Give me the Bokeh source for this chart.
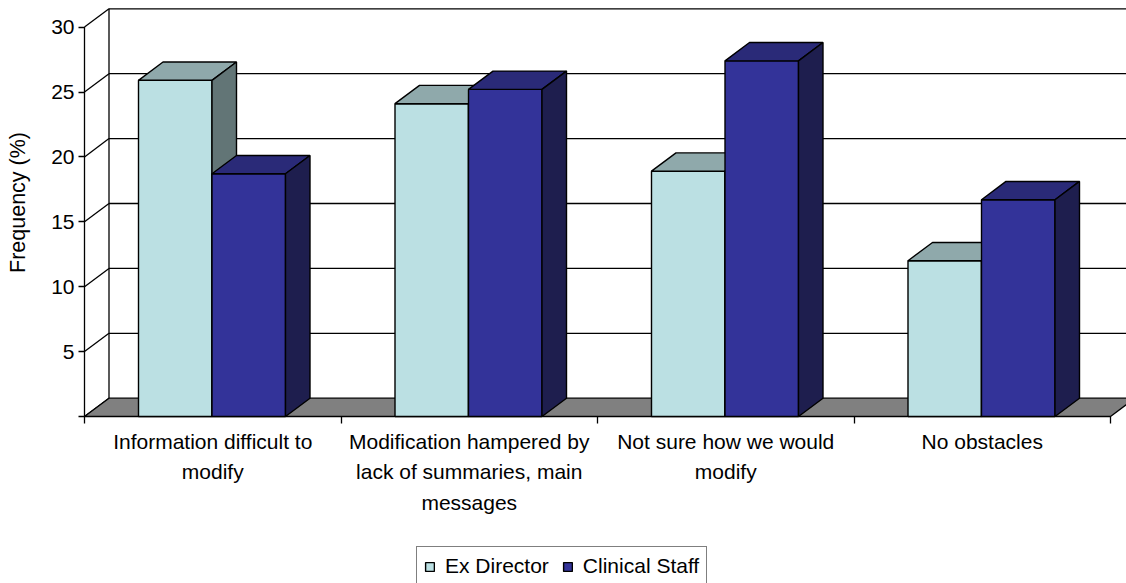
import math
from bokeh.plotting import figure
from bokeh.models import Range1d, LinearAxis, FixedTicker, Legend, LegendItem
from bokeh.core.properties import value
from bokeh.embed import file_html
from bokeh.resources import INLINE

# ---------------- data ----------------
categories = [
    "Information difficult to\nmodify",
    "Modification hampered by\nlack of summaries, main\nmessages",
    "Not sure how we would\nmodify",
    "No obstacles",
]
series_names = ["Ex Director", "Clinical Staff"]
ex_director = [25.9, 24.1, 18.9, 12.0]
clinical_staff = [18.7, 25.2, 27.4, 16.7]
y_tick_values = [0, 5, 10, 15, 20, 25, 30]
y_axis_title = "Frequency (%)"
y_max = 30

# ---------------- geometry / style ----------------
W, H = 1126, 583
ORIGIN_X, ORIGIN_Y = 84.0, 416.0     # pixel position of (0, 0)
PX_PER_CAT = 256.5
PX_PER_UNIT = 12.98
DX = 24.5 / PX_PER_CAT          # depth offset (x)
DY = 18.3 / PX_PER_UNIT         # depth offset (y)
BAR_W = 73.5 / PX_PER_CAT
BAR_START = 54.0 / PX_PER_CAT
LW_GRID = 1.3
LW_BAR = 1.4

FONT = "Liberation Sans"
FS = "21px"

x0 = -ORIGIN_X / PX_PER_CAT
x1 = (W - ORIGIN_X) / PX_PER_CAT
y0 = -(H - ORIGIN_Y) / PX_PER_UNIT
y1 = ORIGIN_Y / PX_PER_UNIT

p = figure(
    frame_width=W, frame_height=H,
    x_range=Range1d(x0, x1), y_range=Range1d(y0, y1),
    x_axis_type=None, y_axis_type=None,
    output_backend="svg", toolbar_location=None,
    min_border=0,
    background_fill_color="white", border_fill_color="white",
)
p.outline_line_color = None

# ---------------- walls ----------------
grid_vals = [v for v in y_tick_values if v > 0]
p.segment(x0=[DX] * len(grid_vals), y0=[v + DY for v in grid_vals],
          x1=[x1 + 1] * len(grid_vals), y1=[v + DY for v in grid_vals],
          line_color="black", line_width=LW_GRID)
p.segment(x0=[0] * len(y_tick_values), y0=y_tick_values,
          x1=[DX] * len(y_tick_values), y1=[v + DY for v in y_tick_values],
          line_color="black", line_width=LW_GRID)
p.segment(x0=[DX, 0], y0=[DY, 0], x1=[DX, 0], y1=[y_max + DY, y_max],
          line_color="black", line_width=LW_GRID)

n = len(categories)
p.patch(x=[0, n, n + DX, DX], y=[0, 0, DY, DY],
        fill_color="#808080", line_color="black", line_width=LW_GRID)

# ---------------- bars ----------------
def faces(vals, k):
    fx, fy, tx, ty, sx, sy = [], [], [], [], [], []
    for i, v in enumerate(vals):
        l = i + BAR_START + k * BAR_W
        r = l + BAR_W
        fx.append([l, r, r, l]); fy.append([0, 0, v, v])
        tx.append([l, r, r + DX, l + DX]); ty.append([v, v, v + DY, v + DY])
        sx.append([r, r + DX, r + DX, r]); sy.append([0, DY, v + DY, v])
    return fx, fy, tx, ty, sx, sy

colors = [
    ("#BBE0E3", "#8FA9AB", "#627576"),
    ("#333399", "#2A2A78", "#1E1E4E"),
]
front_renderers = []
for k, vals in enumerate([ex_director, clinical_staff]):
    fx, fy, tx, ty, sx, sy = faces(vals, k)
    cf, ct, cs = colors[k]
    rf = p.patches(xs=fx, ys=fy, fill_color=cf, line_color="black", line_width=LW_BAR)
    p.patches(xs=tx, ys=ty, fill_color=ct, line_color="black", line_width=LW_BAR)
    p.patches(xs=sx, ys=sy, fill_color=cs, line_color="black", line_width=LW_BAR)
    front_renderers.append(rf)

# ---------------- axes ----------------
yaxis = LinearAxis(
    fixed_location=0,
    ticker=FixedTicker(ticks=y_tick_values),
    major_label_overrides={0: ""},
    axis_line_color=None,
    major_tick_out=6, major_tick_in=0, major_tick_line_color="black", major_tick_line_width=LW_GRID,
    major_label_standoff=4,
    major_label_text_font=FONT, major_label_text_font_size=FS, major_label_text_color="black",
)
p.add_layout(yaxis, "left")

xaxis = LinearAxis(
    fixed_location=0,
    ticker=FixedTicker(ticks=[i + 0.5 for i in range(n)], minor_ticks=list(range(n + 1))),
    major_label_overrides={i + 0.5: c for i, c in enumerate(categories)},
    axis_line_color=None,
    major_tick_line_color=None, major_tick_out=6, major_tick_in=0,
    minor_tick_line_color="black", minor_tick_out=7, minor_tick_in=0, minor_tick_line_width=LW_GRID,
    major_label_standoff=6,
    major_label_text_font=FONT, major_label_text_font_size=FS, major_label_text_color="black",
    major_label_text_line_height=1.33,
)
p.add_layout(xaxis, "below")

# y axis title (rotated text)
p.text(x=[(17.5 - ORIGIN_X) / PX_PER_CAT], y=[(ORIGIN_Y - 202) / PX_PER_UNIT], text=[y_axis_title],
       angle=math.pi / 2, text_align="center", text_baseline="middle",
       text_font=value(FONT), text_font_size="21.5px", text_color="black")

legend = Legend(
    items=[LegendItem(label=series_names[k], renderers=[front_renderers[k]]) for k in range(2)],
    orientation="horizontal",
    border_line_color="black", border_line_width=1.5,
    label_text_font=FONT, label_text_font_size=FS, label_text_color="black",
    glyph_width=11, glyph_height=11, label_standoff=10, spacing=13, padding=7,
    margin=0, location=(416, -3),
    background_fill_alpha=1.0,
)
p.add_layout(legend)

open("out.html", "w").write(file_html(p, INLINE))
